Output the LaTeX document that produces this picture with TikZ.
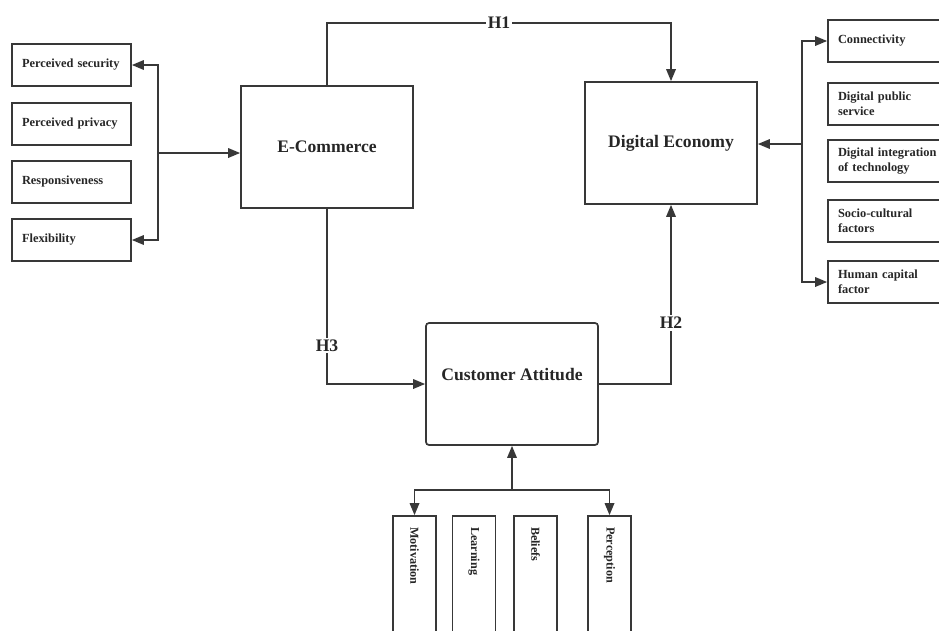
\documentclass[tikz,border=0pt]{standalone}
\usepackage{fontspec}
\setmainfont{Liberation Serif}
\usetikzlibrary{arrows.meta}
\begin{document}
\begin{tikzpicture}[x=1pt,y=-1pt,line width=1.7pt,color=black!78,>={Triangle[length=12pt,width=9.5pt]},
  every node/.style={text=black!85},
  mainbox/.style={draw,minimum width=172pt,minimum height=122pt,font=\fontsize{17.6}{21}\selectfont\bfseries},
  sidebox/.style={draw,minimum height=42pt,inner xsep=10pt,align=left,font=\fontsize{12.4}{15.5}\selectfont\bfseries},
  vbox/.style={draw,rotate=-90,minimum width=134pt,minimum height=43pt,inner xsep=11pt,text width=112pt,align=left,font=\fontsize{12.2}{14}\selectfont\bfseries},
  hlabel/.style={fill=white,inner sep=2pt,font=\fontsize{17.6}{21}\selectfont\bfseries}]
\useasboundingbox (0,0) rectangle (939,630);
% main constructs
\node[mainbox] (ec) at (327,147) {E-Commerce};
\node[mainbox] (de) at (671,143) {Digital Economy};
\node[mainbox,rounded corners=3pt] (ca) at (512,384) {};
\node[font=\fontsize{17.6}{21}\selectfont\bfseries] (catext) at ([yshift=10pt]ca.center) {Customer Attitude};
% e-commerce factors
\node[sidebox,text width=99pt] (ps) at (71.5,65) {Perceived security};
\node[sidebox,text width=99pt] (pp) at (71.5,124) {Perceived privacy};
\node[sidebox,text width=99pt] (rs) at (71.5,182) {Responsiveness};
\node[sidebox,text width=99pt] (fl) at (71.5,240) {Flexibility};
% digital economy factors
\node[sidebox,text width=110pt] (co) at (893,41) {Connectivity};
\node[sidebox,text width=110pt] (dp) at (893,104) {Digital public\\service};
\node[sidebox,text width=110pt] (di) at (893,161) {Digital integration\\of technology};
\node[sidebox,text width=110pt] (sc) at (893,221) {Socio-cultural\\factors};
\node[sidebox,text width=110pt] (hc) at (893,282) {Human capital\\factor};
% attitude factors
\node[vbox] (mo) at (414.5,583) {Motivation};
\node[vbox] (le) at (474,583) {Learning};
\node[vbox] (be) at (535.5,583) {Beliefs};
\node[vbox] (pe) at (609.5,583) {Perception};
% hypotheses
\coordinate (htop) at (327,23);
\draw[->] (ec.north) -- (htop) -| node[hlabel,pos=0.25] {H1} (de.north);
\draw[->] (ca.east) -| node[hlabel,pos=0.67] {H2} (de.south);
\draw[->] (ec.south) |- node[hlabel,pos=0.39] {H3} (ca.west);
% brackets
\coordinate (lt) at (158,65);
\coordinate (lb) at (158,240);
\coordinate (lj) at (158,153);
\draw[<->] (ps.east) -- (lt) -- (lb) -- (fl.east);
\draw[->] (lj) -- (lj -| ec.west);
\coordinate (rt) at (802,41);
\coordinate (rb) at (802,282);
\coordinate (rj) at (802,144);
\draw[<->] (co.west) -- (rt) -- (rb) -- (hc.west);
\draw[->] (rj) -- (rj -| de.east);
\coordinate (bj) at (512,490);
\draw[<->] (mo.west) -- (mo.west |- bj) -- (pe.west |- bj) -- (pe.west);
\draw[->] (bj) -- (ca.south);
\end{tikzpicture}
\end{document}
